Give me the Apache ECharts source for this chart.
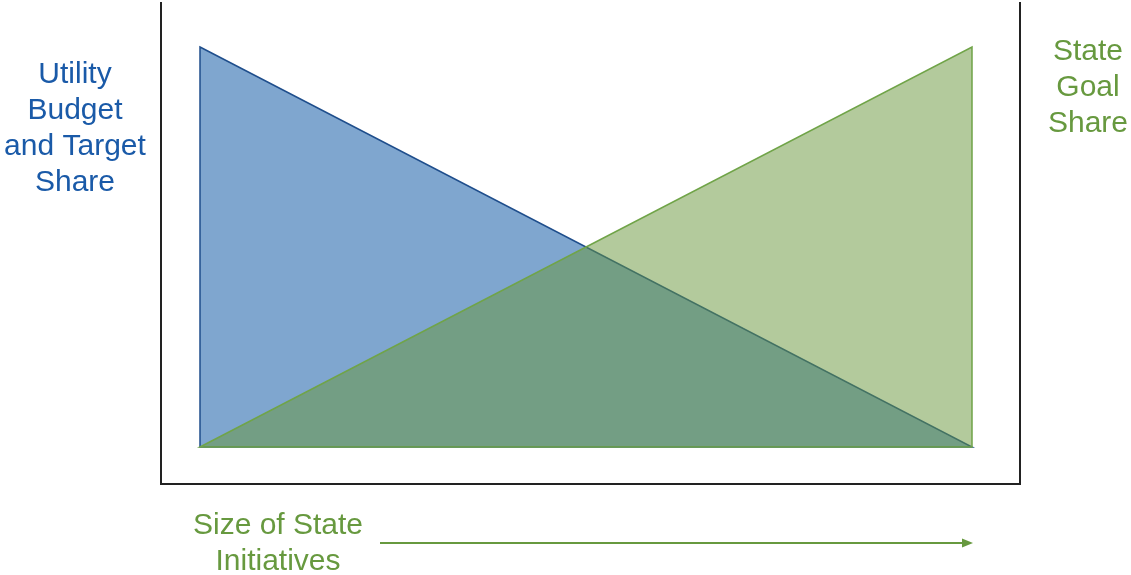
<!DOCTYPE html>
<html><head><meta charset="utf-8">
<script src="https://cdn.jsdelivr.net/npm/echarts@6/dist/echarts.min.js"></script>
<style>html,body{margin:0;padding:0;background:#fff}#c{width:1131px;height:575px}</style>
</head><body><div id="c"></div>
<script>
// Size of state initiatives (x) from small to large
const initiativeSize = [0, 100];
// Utility budget & target share decreases as initiatives grow
const utilityShare = [100, 0];
// State goal share increases as initiatives grow
const stateShare = [0, 100];

const blueTri = [[initiativeSize[0], utilityShare[0]], [initiativeSize[1], utilityShare[1]], [initiativeSize[0], 0]];
const greenTri = [[initiativeSize[0], stateShare[0]], [initiativeSize[1], stateShare[1]], [initiativeSize[1], 0]];

function triSeries(name, pts, fill, stroke, z) {
  return {
    type: 'custom', name, z,
    data: [0],
    renderItem: function (params, api) {
      const p = pts.map(v => api.coord(v));
      return { type: 'polygon', shape: { points: p },
        style: { fill: fill, stroke: stroke, lineWidth: 1.5, lineJoin: 'miter' } };
    },
    silent: true
  };
}

const chart = echarts.init(document.getElementById('c'));
const font = '"Liberation Sans", Arial, sans-serif';
chart.setOption({
  animation: false,
  grid: { left: 200, right: 159, top: 47, bottom: 128 },
  xAxis: { type: 'value', min: 0, max: 100, show: false },
  yAxis: { type: 'value', min: 0, max: 100, show: false },
  series: [
    triSeries('Utility Budget and Target Share', blueTri, 'rgb(127,166,207)', '#1f4e8c', 2),
    triSeries('State Goal Share', greenTri, 'rgba(103,149,57,0.5)', '#70a448', 3)
  ],
  graphic: [
    { type: 'polyline', shape: { points: [[161, 2], [161, 484], [1020, 484], [1020, 2]] },
      style: { stroke: '#222', lineWidth: 2, fill: null } },
    { type: 'text', x: 75, y: 57, style: { text: 'Utility\nBudget\nand Target\nShare', fill: '#1a5aa8', font: '30px ' + font, align: 'center', lineHeight: 36 } },
    { type: 'text', x: 1088, y: 34, style: { text: 'State\nGoal\nShare', fill: '#67993f', font: '30px ' + font, align: 'center', lineHeight: 36 } },
    { type: 'text', x: 278, y: 508, style: { text: 'Size of State\nInitiatives', fill: '#67993f', font: '30px ' + font, align: 'center', lineHeight: 36 } },
    { type: 'line', shape: { x1: 380, y1: 543, x2: 964, y2: 543 }, style: { stroke: '#67993f', lineWidth: 2 } },
    { type: 'polygon', shape: { points: [[962, 538.5], [973, 543], [962, 547.5]] }, style: { fill: '#67993f' } }
  ]
});
</script></body></html>
